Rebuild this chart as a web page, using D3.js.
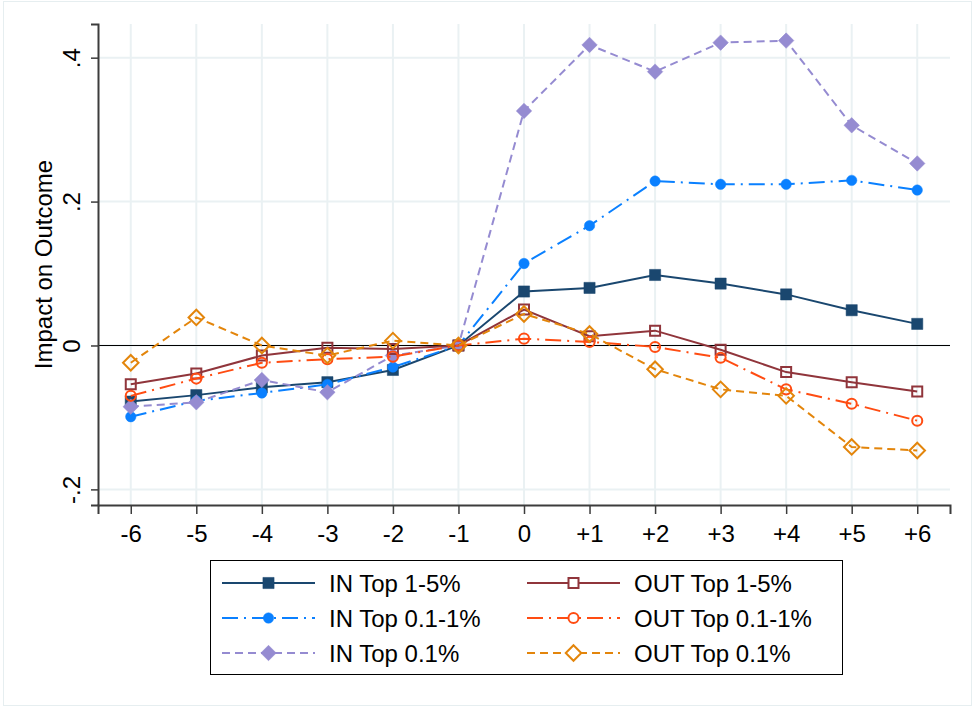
<!DOCTYPE html>
<html>
<head>
<meta charset="utf-8">
<script src="https://cdn.jsdelivr.net/npm/d3@7"></script>
<style>
  body { margin: 0; background: #fff; }
  text { font-family: "Liberation Sans", Arial, sans-serif; }
</style>
</head>
<body>
<div id="chart"></div>
<script>
// event time (x) and tick labels
var periods = [-6, -5, -4, -3, -2, -1, 0, 1, 2, 3, 4, 5, 6];
var periodLabels = ["-6", "-5", "-4", "-3", "-2", "-1", "0", "+1", "+2", "+3", "+4", "+5", "+6"];
var yTicks = [-0.2, 0, 0.2, 0.4];
var yTickLabels = ["-.2", "0", ".2", ".4"];

// estimates
var inTop1to5 = [-0.078, -0.069, -0.058, -0.051, -0.034, 0, 0.075, 0.080, 0.098, 0.086, 0.071, 0.049, 0.030];
var inTop01to1 = [-0.099, -0.077, -0.066, -0.054, -0.030, 0, 0.114, 0.1665, 0.2285, 0.224, 0.224, 0.2295, 0.216];
var inTop01 = [-0.085, -0.079, -0.048, -0.065, -0.014, 0, 0.326, 0.4177, 0.3806, 0.4209, 0.4237, 0.306, 0.253];
var outTop1to5 = [-0.054, -0.039, -0.014, -0.003, -0.005, 0, 0.050, 0.013, 0.0206, -0.006, -0.037, -0.051, -0.064];
var outTop01to1 = [-0.070, -0.046, -0.024, -0.019, -0.0155, 0, 0.0095, 0.005, -0.002, -0.017, -0.061, -0.081, -0.1045];
var outTop01 = [-0.024, 0.039, 0.000, -0.014, 0.0067, 0, 0.0438, 0.016, -0.033, -0.061, -0.070, -0.141, -0.146];

var seriesNames = ["IN Top 1-5%", "IN Top 0.1-1%", "IN Top 0.1%", "OUT Top 1-5%", "OUT Top 0.1-1%", "OUT Top 0.1%"];

// a square turned 45 degrees, like Stata's diamond
var diamond = {
  draw: function(context, size) {
    var r = Math.sqrt(size / 2);
    context.moveTo(0, -r);
    context.lineTo(r, 0);
    context.lineTo(0, r);
    context.lineTo(-r, 0);
    context.closePath();
  }
};

var series = [
  { name: seriesNames[0], values: inTop1to5, color: "#1a476f", dash: null, symbol: d3.symbolSquare, size: 125, filled: true },
  { name: seriesNames[1], values: inTop01to1, color: "#0a80ff", dash: "16,6,2,6", symbol: d3.symbolCircle, size: 85, filled: true },
  { name: seriesNames[2], values: inTop01, color: "#958bd1", dash: "8,5", symbol: diamond, size: 120, filled: true },
  { name: seriesNames[3], values: outTop1to5, color: "#90353b", dash: null, symbol: d3.symbolSquare, size: 100, filled: false },
  { name: seriesNames[4], values: outTop01to1, color: "#ff4c12", dash: "16,6,2,6", symbol: d3.symbolCircle, size: 80, filled: false },
  { name: seriesNames[5], values: outTop01, color: "#e3850b", dash: "8,5", symbol: diamond, size: 120, filled: false }
];

var width = 974,
  height = 707,
  plot = { left: 98, right: 950, top: 24, bottom: 505 };

var svg = d3.select("#chart").append("svg")
    .attr("width", width)
    .attr("height", height);

// outer graph region border
svg.append("rect")
    .attr("x", 3.5).attr("y", 1.5)
    .attr("width", width - 6).attr("height", height - 3)
    .attr("fill", "none")
    .attr("stroke", "#e6eef0");

var x = d3.scaleLinear()
    .domain([-6.5, 6.5])
    .range([plot.left, plot.right]);

var y = d3.scaleLinear()
    .domain([-0.2217, 0.4468])
    .range([plot.bottom, plot.top]);

// grid
svg.append("g").selectAll("line")
    .data(periods)
  .enter().append("line")
    .attr("x1", function(d) { return x(d); })
    .attr("x2", function(d) { return x(d); })
    .attr("y1", plot.top).attr("y2", plot.bottom)
    .attr("stroke", "#eaf1f3")
    .attr("stroke-width", 2);

svg.append("g").selectAll("line")
    .data(yTicks)
  .enter().append("line")
    .attr("x1", plot.left).attr("x2", plot.right)
    .attr("y1", function(d) { return y(d); })
    .attr("y2", function(d) { return y(d); })
    .attr("stroke", "#eaf1f3")
    .attr("stroke-width", 2);

// zero reference line
svg.append("line")
    .attr("x1", plot.left).attr("x2", plot.right)
    .attr("y1", y(0)).attr("y2", y(0))
    .attr("stroke", "#000")
    .attr("stroke-width", 1.2);

// axes
var xAxis = d3.axisBottom(x)
    .tickValues(periods)
    .tickFormat(function(d, i) { return periodLabels[i]; })
    .tickSize(9)
    .tickPadding(11);

var gx = svg.append("g")
    .attr("transform", "translate(0," + plot.bottom + ")")
    .call(xAxis);
gx.select(".domain").attr("stroke", "#3c3c3c").attr("stroke-width", 2);
gx.selectAll(".tick line").attr("stroke", "#3c3c3c").attr("stroke-width", 1.5);
gx.selectAll(".tick text")
    .attr("font-size", 24)
    .attr("fill", "#000")
    .style("font-family", "'Liberation Sans', Arial, sans-serif");

var yAxis = d3.axisLeft(y)
    .tickValues(yTicks)
    .tickFormat(function(d, i) { return yTickLabels[i]; })
    .tickSize(7);

var gy = svg.append("g")
    .attr("transform", "translate(" + plot.left + ",0)")
    .call(yAxis);
gy.select(".domain").attr("stroke", "#3c3c3c").attr("stroke-width", 2);
gy.selectAll(".tick line").attr("stroke", "#3c3c3c").attr("stroke-width", 1.5);
gy.selectAll(".tick text")
    .attr("font-size", 24)
    .attr("fill", "#000")
    .attr("x", null).attr("dy", null)
    .attr("text-anchor", "middle")
    .attr("transform", "translate(-18,0) rotate(-90)")
    .attr("y", 0)
    .style("font-family", "'Liberation Sans', Arial, sans-serif");

svg.append("text")
    .attr("transform", "translate(52," + ((plot.top + plot.bottom) / 2) + ") rotate(-90)")
    .attr("text-anchor", "middle")
    .attr("font-size", 24)
    .text("Impact on Outcome");

// lines and markers
var line = d3.line()
    .x(function(d, i) { return x(periods[i]); })
    .y(function(d) { return y(d); });

var layers = svg.selectAll(".series")
    .data(series)
  .enter().append("g")
    .attr("class", "series");

layers.append("path")
    .attr("d", function(s) { return line(s.values); })
    .attr("fill", "none")
    .attr("stroke", function(s) { return s.color; })
    .attr("stroke-width", 2)
    .attr("stroke-dasharray", function(s) { return s.dash; });

layers.each(function(s) {
  d3.select(this).selectAll(".marker")
      .data(s.values)
    .enter().append("path")
      .attr("class", "marker")
      .attr("transform", function(d, i) { return "translate(" + x(periods[i]) + "," + y(d) + ")"; })
      .attr("d", d3.symbol().type(s.symbol).size(s.size))
      .attr("fill", s.filled ? s.color : "none")
      .attr("stroke", s.color)
      .attr("stroke-width", s.filled ? 0.5 : 2);
});

// legend
var legend = svg.append("g");
legend.append("rect")
    .attr("x", 210.5).attr("y", 560.5)
    .attr("width", 632).attr("height", 114)
    .attr("fill", "#fff")
    .attr("stroke", "#000")
    .attr("stroke-width", 1);

var items = legend.selectAll(".item")
    .data(series)
  .enter().append("g")
    .attr("class", "item")
    .attr("transform", function(s, i) {
      var col = Math.floor(i / 3), row = i % 3;
      return "translate(" + (222 + col * 305) + "," + (583 + row * 35) + ")";
    });

items.append("line")
    .attr("x1", 0).attr("x2", 93)
    .attr("stroke", function(s) { return s.color; })
    .attr("stroke-width", 2)
    .attr("stroke-dasharray", function(s) { return s.dash; });

items.append("path")
    .attr("transform", "translate(46.5,0)")
    .attr("d", function(s) { return d3.symbol().type(s.symbol).size(s.size)(); })
    .attr("fill", function(s) { return s.filled ? s.color : "#fff"; })
    .attr("stroke", function(s) { return s.color; })
    .attr("stroke-width", function(s) { return s.filled ? 0.5 : 2; });

items.append("text")
    .attr("x", 107)
    .attr("dy", "0.36em")
    .attr("font-size", 24)
    .text(function(s) { return s.name; });
</script>
</body>
</html>
